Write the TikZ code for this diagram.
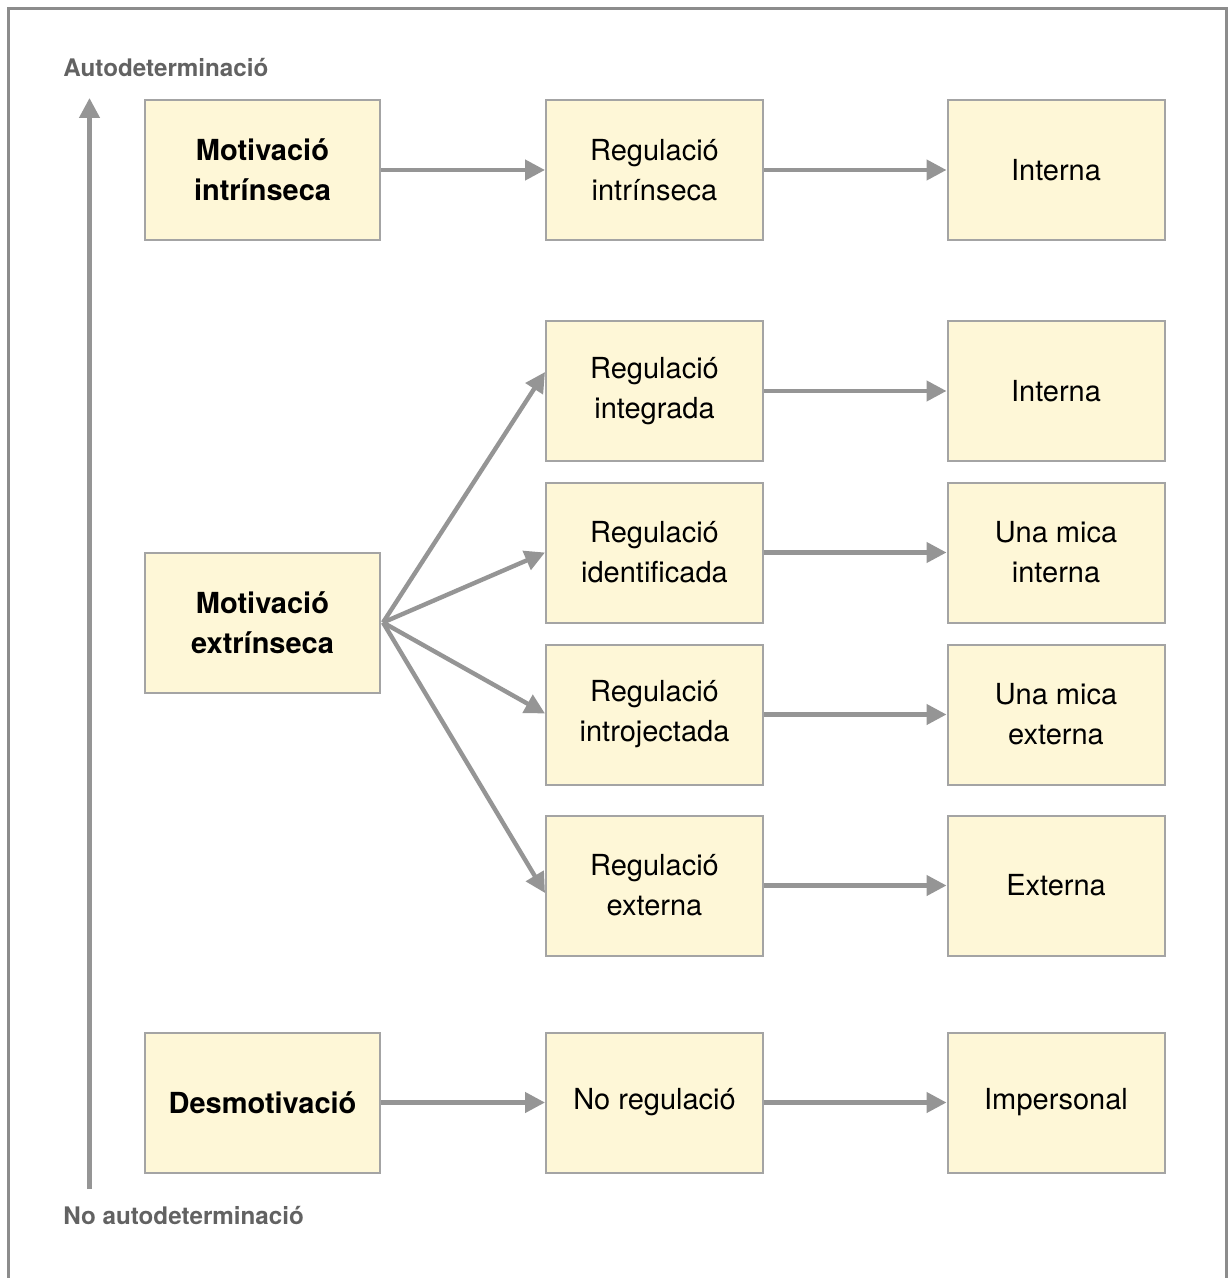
\documentclass[tikz,border=0pt]{standalone}
\usepackage{fontspec}
\setmainfont{TeX Gyre Heros}
\usetikzlibrary{arrows.meta}
\usetikzlibrary{calc}

\definecolor{boxfill}{HTML}{FEF7D7}
\definecolor{boxline}{HTML}{A4A4A4}
\definecolor{arrowgray}{HTML}{959595}
\definecolor{labelgray}{HTML}{626262}
\definecolor{framegray}{HTML}{8C8C8C}

\tikzset{
	stagebox/.style={draw=boxline, fill=boxfill, line width=1pt, rectangle,
		minimum width=#1, minimum height=70pt, align=center, inner sep=0pt,
		font=\fontsize{14.5}{20}\selectfont},
	stagebox/.default=108.5pt,
	flow/.style={draw=arrowgray, line width=2.2pt, -{Triangle[length=10pt,width=10pt]}},
	axislabel/.style={anchor=west, text=labelgray, inner sep=0pt,
		font=\fontsize{12.1}{14}\selectfont\bfseries}
}

\begin{document}
\begin{tikzpicture}[x=0.5pt,y=-0.5pt]
	\useasboundingbox (0,0) rectangle (1230,1278);
	\draw[framegray, line width=1.5pt] (8.5,1290) -- (8.5,8.5) -- (1226,8.5) -- (1226,1290);

	% axis
	\node[axislabel] (top) at (63,68) {Autodeterminació};
	\node[axislabel] (bottom) at (63,1215) {No autodeterminació};
	\coordinate (axlow) at (89.5,1189);
	\coordinate (axhigh) at (89.5,98);
	\draw[flow] (axlow) -- (axhigh);

	% motivation types
	\node[stagebox=117.5pt, font=\fontsize{14.5}{20}\selectfont\bfseries] (intr) at (262.5,170) {Motivació\\intrínseca};
	\node[stagebox=117.5pt, font=\fontsize{14.5}{20}\selectfont\bfseries] (extr) at (262.5,622.5) {Motivació\\extrínseca};
	\node[stagebox=117.5pt, font=\fontsize{14.5}{20}\selectfont\bfseries] (desm) at (262.5,1102.5) {Desmotivació};

	% regulation styles
	\node[stagebox] (r1) at (654.5,170) {Regulació\\intrínseca};
	\node[stagebox] (r2) at (654.5,391) {Regulació\\integrada};
	\node[stagebox] (r3) at (654.5,552.5) {Regulació\\identificada};
	\node[stagebox] (r4) at (654.5,714.5) {Regulació\\introjectada};
	\node[stagebox] (r5) at (654.5,885.5) {Regulació\\externa};
	\node[stagebox] (r6) at (654.5,1102.5) {No regulació};

	% locus of causality
	\node[stagebox] (l1) at (1056,170) {Interna};
	\node[stagebox] (l2) at (1056,391) {Interna};
	\node[stagebox] (l3) at (1056,552.5) {Una mica\\interna};
	\node[stagebox] (l4) at (1056,714.5) {Una mica\\externa};
	\node[stagebox] (l5) at (1056,885.5) {Externa};
	\node[stagebox] (l6) at (1056,1102.5) {Impersonal};

	% arrows
	\draw[flow] (intr.east) -- (r1.west);
	\draw[flow] (desm.east) -- (r6.west);
	\coordinate (fan) at ($(extr.east)+(2,0)$);
	\draw[flow] (fan) -- ($(r2.west)+(0,-19)$);
	\draw[flow] (fan) -- (r3.west);
	\draw[flow] (fan) -- ($(r4.west)+(0,-1)$);
	\draw[flow] (fan) -- ($(r5.west)+(0,7.5)$);
	\foreach \i in {1,...,6} {
		\draw[flow] (r\i.east) -- (l\i.west);
	}
\end{tikzpicture}
\end{document}
